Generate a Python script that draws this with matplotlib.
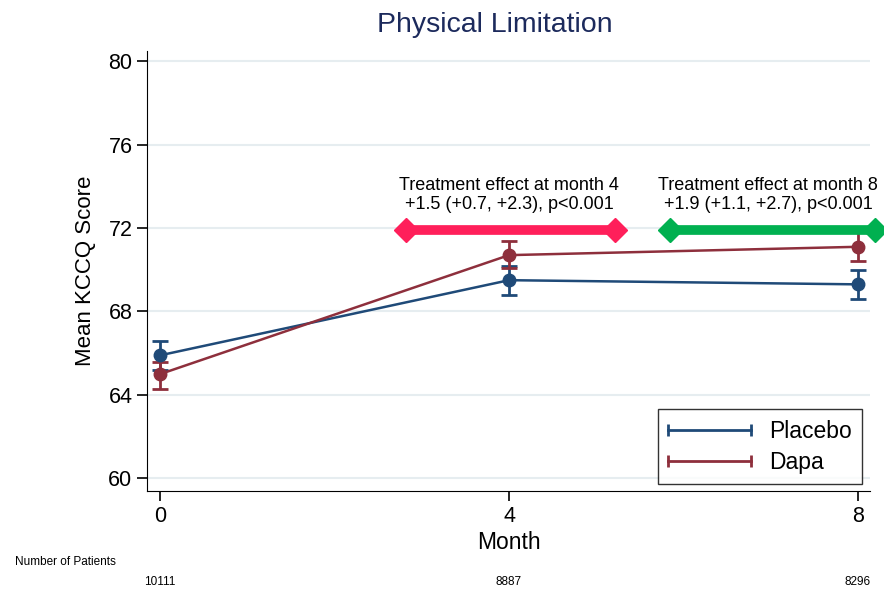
import numpy as np
import matplotlib.pyplot as plt
from matplotlib.lines import Line2D
from matplotlib.legend_handler import HandlerBase

months = [0, 4, 8]
placebo = [65.9, 69.5, 69.3]
placebo_lo = [65.2, 68.8, 68.6]
placebo_hi = [66.6, 70.2, 70.0]
dapa = [65.0, 70.7, 71.1]
dapa_lo = [64.3, 70.1, 70.4]
dapa_hi = [65.6, 71.4, 71.8]
n_patients = ["10111", "8887", "8296"]

# treatment effect brackets: (x start, x end, y, label, colour, text x)
effects = [
    (2.82, 5.22, 71.9, "Treatment effect at month 4\n+1.5 (+0.7, +2.3), p<0.001", "#ff1f5a", 4.0),
    (5.85, 8.2, 71.9, "Treatment effect at month 8\n+1.9 (+1.1, +2.7), p<0.001", "#00b050", 6.97),
]

plt.rcParams['font.family'] = ['Liberation Sans', 'DejaVu Sans']

c_pla = "#1f4a78"
c_dap = "#8e2f3c"


class CapLine(HandlerBase):
    # legend key: horizontal line with a small cap at each end
    def create_artists(self, legend, orig, xd, yd, width, height, fontsize, trans):
        col = orig.get_color()
        y = height / 2 - yd
        ln = Line2D([-xd, width - xd], [y, y], color=col, lw=2, transform=trans)
        caps = Line2D([-xd, width - xd], [y, y], color=col, ls="none", marker="|",
                      ms=9, mew=2, transform=trans)
        return [ln, caps]


fig = plt.figure(figsize=(8.84, 5.89), dpi=100)
ax = fig.add_axes([0.1663, 0.1664, 0.818, 0.7477])

handles = []
for y, lo, hi, col, lab in [(placebo, placebo_lo, placebo_hi, c_pla, "Placebo"),
                             (dapa, dapa_lo, dapa_hi, c_dap, "Dapa")]:
    y = np.array(y)
    err = [y - np.array(lo), np.array(hi) - y]
    ax.errorbar(months, y, yerr=err, color=col, lw=1.8, marker="o", ms=9,
                capsize=6, capthick=2, elinewidth=2)
    handles.append(Line2D([], [], color=col, label=lab))

for x0, x1, yv, txt, col, tx in effects:
    ax.plot([x0, x1], [yv, yv], color=col, lw=7, solid_capstyle="butt", clip_on=False, zorder=5)
    ax.plot([x0, x1], [yv, yv], ls="none", marker="D", ms=12, color=col, clip_on=False, zorder=5)
    ax.text(tx, yv + 0.8, txt, ha="center", va="bottom", fontsize=13, linespacing=1.15)

ax.set_xlim(-0.15, 8.14)
ax.set_ylim(59.4, 80.5)
ax.set_xticks(months)
ax.set_yticks(np.arange(60, 81, 4))
ax.yaxis.grid(True, color="#e6edf0", lw=1.5)
ax.set_axisbelow(True)
for s in ["top", "right"]:
    ax.spines[s].set_visible(False)
ax.tick_params(labelsize=15.5, length=7, width=1.2, direction="out")
ax.set_xlabel("Month", fontsize=16.5, labelpad=3)
ax.set_ylabel("Mean KCCQ Score", fontsize=16, labelpad=9)
fig.text(495 / 884, 1 - 25 / 589, "Physical Limitation", fontsize=20.5,
         color="#1c2a5c", ha="center", va="center")

leg = ax.legend(handles=handles, handler_map={Line2D: CapLine()},
                loc="lower right", fontsize=16.5, frameon=True, fancybox=False,
                edgecolor="black", handlelength=3.6, borderpad=0.45,
                labelspacing=0.35, borderaxespad=0,
                bbox_to_anchor=(0.989, 0.016))
leg.get_frame().set_linewidth(1.0)

fig.text(15 / 884, 1 - 562 / 589, "Number of Patients", fontsize=8.5, va="center")
for m, n in zip(months, n_patients):
    ax.annotate(n, xy=(m, 1 - 582 / 589), xycoords=("data", "figure fraction"),
                ha="center", va="center", fontsize=8.5)

plt.savefig("out.png", dpi=100)
